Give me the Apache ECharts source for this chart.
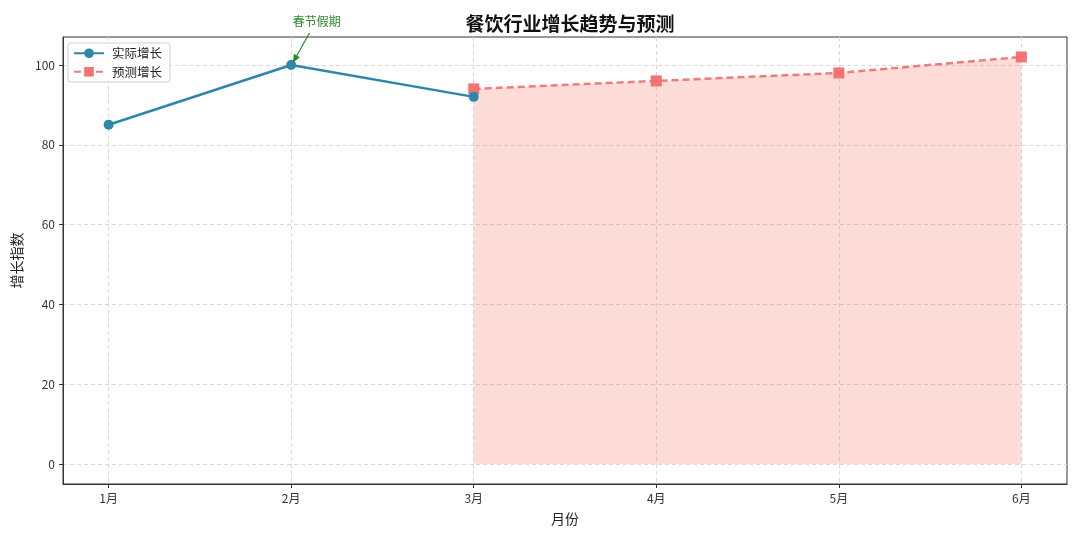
<!DOCTYPE html>
<html><head><meta charset="utf-8">
<script src="https://cdn.jsdelivr.net/npm/echarts@6/dist/echarts.min.js"></script>
<style>html,body{margin:0;padding:0;background:#fff}#c{width:1080px;height:540px}</style>
</head><body><div id="c"></div>
<script>
const months = ['1月','2月','3月','4月','5月','6月'];
const monthPos = [1,2,3,4,5,6];
const actualX = [1,2,3];
const actualY = [85,100,92];
const forecastX = [3,4,5,6];
const forecastY = [94,96,98,102];
const yTicks = [0,20,40,60,80,100];
const annotation = {text:'春节假期', textAt:[2.14,111], tail:[2.10,108], head:[2.01,100.6]};

const FONT = '"Noto Sans CJK SC", "Noto Sans", sans-serif';
const chart = echarts.init(document.getElementById('c'));
const option = {
  animation:false,
  textStyle:{fontFamily:FONT},
  title:{text:'餐饮行业增长趋势与预测', left:565, top:9, textAlign:'center',
    textStyle:{fontSize:19, fontWeight:'bold', color:'#111', fontFamily:FONT}},
  grid:{left:63, right:13, top:37, bottom:56, show:true, borderColor:'#333', borderWidth:1, containLabel:false},
  legend:{left:68, top:43, orient:'vertical', itemWidth:30, itemHeight:12, itemGap:6,
    borderColor:'#d0d0d0', borderWidth:1, borderRadius:3, padding:[4,8,4,5],
    backgroundColor:'rgba(255,255,255,0.8)',
    textStyle:{fontSize:12.5, color:'#222', fontFamily:FONT, padding:[0,0,0,3]},
    data:['实际增长','预测增长']},
  xAxis:{type:'value', min:0.75, max:6.25,
    name:'月份', nameLocation:'middle', nameGap:28,
    nameTextStyle:{fontSize:14, color:'#222', fontFamily:FONT},
    axisLine:{show:true, onZero:false, lineStyle:{color:'#333'}},
    axisTick:{show:true, length:4, customValues:monthPos, lineStyle:{color:'#333'}},
    axisLabel:{customValues:monthPos, formatter:v=>months[Math.round(v)-1], fontSize:12, color:'#333', margin:8},
    splitLine:{show:true, lineStyle:{type:[4,3], color:'#d8d8d8'}}},
  yAxis:{type:'value', min:-5, max:107,
    name:'增长指数', nameLocation:'middle', nameGap:35,
    nameTextStyle:{fontSize:14, color:'#222', fontFamily:FONT},
    axisLine:{show:true, onZero:false, lineStyle:{color:'#333'}},
    axisTick:{show:true, length:4, customValues:yTicks, lineStyle:{color:'#333'}},
    axisLabel:{customValues:yTicks, fontSize:12, color:'#333', margin:8},
    splitLine:{show:true, lineStyle:{type:[4,3], color:'#d8d8d8'}}},
  series:[
    {name:'预测增长', type:'line', data:forecastX.map((x,i)=>[x,forecastY[i]]),
      symbol:'rect', symbolSize:11, z:3,
      itemStyle:{color:'#f26d6d', opacity:0.95},
      lineStyle:{color:'#ec7070', width:2.5, type:[7,4], opacity:0.9},
      areaStyle:{color:'rgba(250,128,114,0.28)', origin:0, opacity:1}},
    {name:'实际增长', type:'line', data:actualX.map((x,i)=>[x,actualY[i]]),
      symbol:'circle', symbolSize:10, z:4,
      itemStyle:{color:'#2e86ab'},
      lineStyle:{color:'#2e86ab', width:2.5}}
  ]
};
chart.setOption(option);
const tp = chart.convertToPixel({gridIndex:0}, annotation.textAt);
const t1 = chart.convertToPixel({gridIndex:0}, annotation.tail);
const h1 = chart.convertToPixel({gridIndex:0}, annotation.head);
chart.setOption({graphic:[
  {type:'text', x:tp[0], y:tp[1], style:{text:annotation.text, fill:'#2a8a2a', font:'12px '+FONT, textAlign:'center', textVerticalAlign:'middle'}},
  {type:'line', shape:{x1:t1[0], y1:t1[1], x2:h1[0], y2:h1[1]}, style:{stroke:'#2a8a2a', lineWidth:1.2}, z:10},
  (function(){
    const ang = Math.atan2(h1[1]-t1[1], h1[0]-t1[0]);
    const L=8, W=3.5;
    const bx=h1[0]-L*Math.cos(ang), by=h1[1]-L*Math.sin(ang);
    const px=-Math.sin(ang), py=Math.cos(ang);
    return {type:'polygon', shape:{points:[[h1[0],h1[1]],[bx+W*px,by+W*py],[bx-W*px,by-W*py]]}, style:{fill:'#2a8a2a'}, z:10};
  })()
]});
</script></body></html>
